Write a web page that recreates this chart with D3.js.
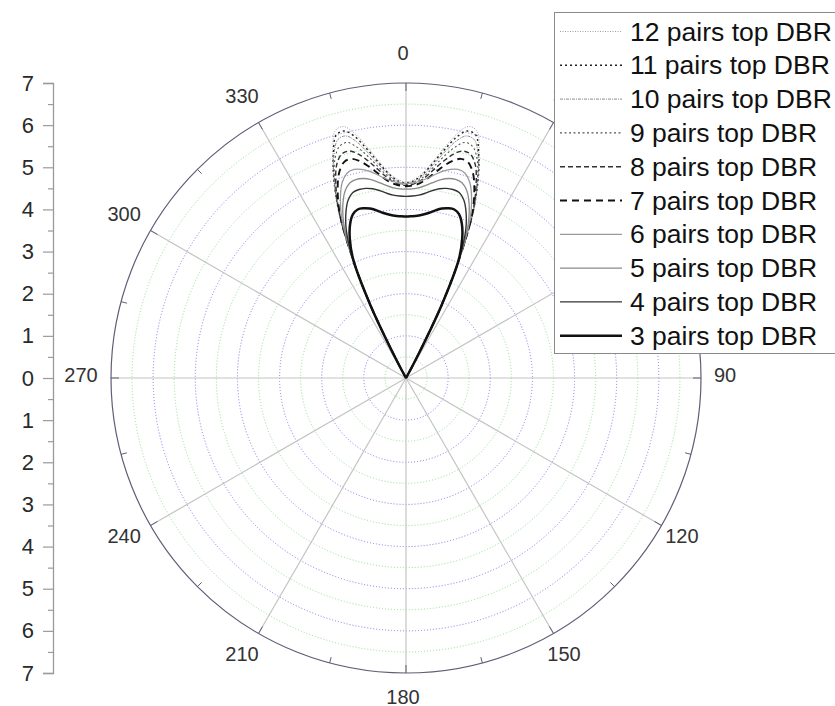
<!DOCTYPE html>
<html>
<head>
<meta charset="utf-8">
<script src="https://cdn.jsdelivr.net/npm/d3@7/dist/d3.min.js"></script>
<style>
  html, body { margin: 0; padding: 0; background: #fff; }
  svg { display: block; font-family: "Liberation Sans", Arial, sans-serif; }
</style>
</head>
<body>
<svg id="chart" width="835" height="706"></svg>
<script>
// Emission angle (degrees, 0 = normal) and radial intensity for each DBR pair count
const angles = [-30,-28,-26,-24,-22,-20,-18,-16,-14,-12,-10,-8,-6,-4,-2,0,2,4,6,8,10,12,14,16,18,20,22,24,26,28,30];

const pairs12 = [0,0.45,1.95,3.15,4.25,5.00,5.62,6.10,6.15,5.95,5.63,5.31,5.03,4.82,4.70,4.65,4.70,4.82,5.03,5.31,5.63,5.95,6.15,6.10,5.62,5.00,4.25,3.15,1.95,0.45,0];
const pairs11 = [0,0.45,1.95,3.15,4.25,5.00,5.58,6.00,6.04,5.86,5.56,5.26,4.99,4.79,4.67,4.63,4.67,4.79,4.99,5.26,5.56,5.86,6.04,6.00,5.58,5.00,4.25,3.15,1.95,0.45,0];
const pairs10 = [0,0.45,1.95,3.15,4.25,4.98,5.54,5.88,5.92,5.75,5.48,5.20,4.95,4.76,4.65,4.61,4.65,4.76,4.95,5.20,5.48,5.75,5.92,5.88,5.54,4.98,4.25,3.15,1.95,0.45,0];
const pairs9  = [0,0.45,1.95,3.15,4.25,4.94,5.46,5.72,5.76,5.60,5.37,5.12,4.89,4.72,4.63,4.59,4.63,4.72,4.89,5.12,5.37,5.60,5.76,5.72,5.46,4.94,4.25,3.15,1.95,0.45,0];
const pairs8  = [0,0.45,1.95,3.15,4.22,4.86,5.32,5.53,5.55,5.43,5.24,5.03,4.83,4.68,4.60,4.57,4.60,4.68,4.83,5.03,5.24,5.43,5.55,5.53,5.32,4.86,4.22,3.15,1.95,0.45,0];
const pairs7  = [0,0.45,1.95,3.15,4.18,4.74,5.13,5.33,5.36,5.26,5.10,4.92,4.75,4.63,4.57,4.55,4.57,4.63,4.75,4.92,5.10,5.26,5.36,5.33,5.13,4.74,4.18,3.15,1.95,0.45,0];
const pairs6  = [0,0.45,1.95,3.15,4.06,4.55,4.89,5.06,5.10,5.06,4.98,4.87,4.76,4.68,4.63,4.62,4.63,4.68,4.76,4.87,4.98,5.06,5.10,5.06,4.89,4.55,4.06,3.15,1.95,0.45,0];
const pairs5  = [0,0.45,1.95,3.15,3.94,4.38,4.67,4.82,4.86,4.84,4.78,4.69,4.60,4.53,4.49,4.48,4.49,4.53,4.60,4.69,4.78,4.84,4.86,4.82,4.67,4.38,3.94,3.15,1.95,0.45,0];
const pairs4  = [0,0.45,1.95,3.12,3.78,4.17,4.44,4.58,4.61,4.60,4.56,4.49,4.41,4.35,4.32,4.31,4.32,4.35,4.41,4.49,4.56,4.60,4.61,4.58,4.44,4.17,3.78,3.12,1.95,0.45,0];
const pairs3  = [0,0.45,1.95,3.08,3.56,3.88,4.08,4.16,4.15,4.11,4.04,3.96,3.90,3.86,3.84,3.83,3.84,3.86,3.90,3.96,4.04,4.11,4.15,4.16,4.08,3.88,3.56,3.08,1.95,0.45,0];

const seriesNames = ["12 pairs top DBR","11 pairs top DBR","10 pairs top DBR","9 pairs top DBR","8 pairs top DBR",
                     "7 pairs top DBR","6 pairs top DBR","5 pairs top DBR","4 pairs top DBR","3 pairs top DBR"];
const seriesValues = [pairs12, pairs11, pairs10, pairs9, pairs8, pairs7, pairs6, pairs5, pairs4, pairs3];

const angleTicks = [0,30,60,90,120,150,180,210,240,270,300,330];
const radialTicks = [-7,-6,-5,-4,-3,-2,-1,0,1,2,3,4,5,6,7];

// Line appearance per series (same order as seriesNames)
const lineStyles = [
  { color: "#a0a0a0", width: 1.0, dash: "1,1.5" },
  { color: "#222222", width: 1.4, dash: "2,3" },
  { color: "#8c8c8c", width: 1.0, dash: "3,1,1,1" },
  { color: "#555555", width: 1.1, dash: "2,2.5" },
  { color: "#333333", width: 1.4, dash: "5,3" },
  { color: "#111111", width: 1.9, dash: "7,5" },
  { color: "#9a9a9a", width: 1.3, dash: null },
  { color: "#8a8a8a", width: 1.3, dash: null },
  { color: "#333333", width: 1.4, dash: null },
  { color: "#111111", width: 2.5, dash: null }
];

const svg = d3.select("#chart");
const cx = 406, cy = 378, R = 295, rMax = 7;
const rScale = d3.scaleLinear().domain([0, rMax]).range([0, R]);
const rad = d => d * Math.PI / 180;

const plot = svg.append("g").attr("transform", `translate(${cx},${cy})`);

// concentric grid: blue at integers, green at halves
const gridVals = rScale.ticks(14).filter(v => v > 0 && v < rMax);
plot.selectAll("circle.grid").data(gridVals).join("circle")
  .attr("class", "grid")
  .attr("r", d => rScale(d))
  .attr("fill", "none")
  .attr("stroke", d => Number.isInteger(d) ? "#7a7af0" : "#8ee08e")
  .attr("stroke-width", 1)
  .attr("stroke-dasharray", "1,2");

// spokes every 30 degrees
plot.selectAll("line.spoke").data(angleTicks).join("line")
  .attr("class", "spoke")
  .attr("x1", 0).attr("y1", 0)
  .attr("x2", d => rScale(rMax) * Math.sin(rad(d)))
  .attr("y2", d => -rScale(rMax) * Math.cos(rad(d)))
  .attr("stroke", "#c4c4c4")
  .attr("stroke-width", 1.2);

// outer circle
plot.append("circle").attr("r", rScale(rMax))
  .attr("fill", "none").attr("stroke", "#5e5e78").attr("stroke-width", 1.2);

// inward ticks on the outer circle every 15 degrees
const outerTicks = d3.range(0, 360, 15);
plot.selectAll("line.otick").data(outerTicks).join("line")
  .attr("class", "otick")
  .attr("x1", d => rScale(rMax) * Math.sin(rad(d)))
  .attr("y1", d => -rScale(rMax) * Math.cos(rad(d)))
  .attr("x2", d => (rScale(rMax) - (d % 30 === 0 ? 8 : 6)) * Math.sin(rad(d)))
  .attr("y2", d => -(rScale(rMax) - (d % 30 === 0 ? 8 : 6)) * Math.cos(rad(d)))
  .attr("stroke", "#5e5e78").attr("stroke-width", 1);

// angular labels
const labelR = 322, lcx = 403 - cx, lcy = 375 - cy;
plot.selectAll("text.alabel").data(angleTicks).join("text")
  .attr("class", "alabel")
  .attr("x", d => lcx + labelR * Math.sin(rad(d)))
  .attr("y", d => lcy - labelR * Math.cos(rad(d)))
  .attr("text-anchor", "middle")
  .attr("dominant-baseline", "central")
  .attr("font-size", 20)
  .attr("fill", "#333")
  .text(d => d);

// curves
const radial = d3.lineRadial()
  .angle((d, i) => rad(angles[i]))
  .radius(d => rScale(d))
  .curve(d3.curveCatmullRom.alpha(0.5));

const order = d3.range(seriesValues.length);
plot.selectAll("path.series").data(order).join("path")
  .attr("class", "series")
  .attr("d", i => radial(seriesValues[i]))
  .attr("fill", "none")
  .attr("stroke", i => lineStyles[i].color)
  .attr("stroke-width", i => lineStyles[i].width)
  .attr("stroke-dasharray", i => lineStyles[i].dash)
  .attr("stroke-linejoin", "round");

// radial axis on the left, symmetric about the centre
const axisX = 53;
const yAxisScale = d3.scaleLinear().domain([-rMax, rMax]).range([cy + R, cy - R]);
const axisG = svg.append("g").attr("transform", `translate(${axisX},0)`);
axisG.call(d3.axisLeft(yAxisScale).tickValues(radialTicks).tickSize(10).tickPadding(9)
  .tickFormat(d => Math.abs(d)));
const minorG = svg.append("g").attr("transform", `translate(${axisX},0)`);
minorG.call(d3.axisLeft(yAxisScale).tickValues(d3.range(-6.5, 7, 1)).tickSize(5).tickFormat(""));
[axisG, minorG].forEach(g => {
  g.select(".domain").attr("stroke", "#9a9a9a").attr("stroke-width", 1.3);
  g.selectAll(".tick line").attr("stroke", "#9a9a9a").attr("stroke-width", 1.2);
});
minorG.select(".domain").remove();
axisG.selectAll(".tick text").attr("font-size", 22).attr("fill", "#2a2a2a")
  .attr("font-family", "'Liberation Sans', Arial, sans-serif");

// legend
const legend = svg.append("g");
legend.append("rect")
  .attr("x", 554.5).attr("y", 12.5).attr("width", 300).attr("height", 341)
  .attr("fill", "#fff").attr("stroke", "#8a8a8a").attr("stroke-width", 1);
const rowY = i => 31.5 + i * 33.8;
const rows = legend.selectAll("g.row").data(order).join("g").attr("class", "row");
rows.append("line")
  .attr("x1", 560).attr("x2", 622)
  .attr("y1", i => rowY(i)).attr("y2", i => rowY(i))
  .attr("stroke", i => lineStyles[i].color)
  .attr("stroke-width", i => lineStyles[i].width)
  .attr("stroke-dasharray", i => lineStyles[i].dash);
rows.append("text")
  .attr("x", 630).attr("y", i => rowY(i))
  .attr("dominant-baseline", "central")
  .attr("font-size", 26.5)
  .attr("fill", "#111")
  .text(i => seriesNames[i]);
</script>
</body>
</html>
